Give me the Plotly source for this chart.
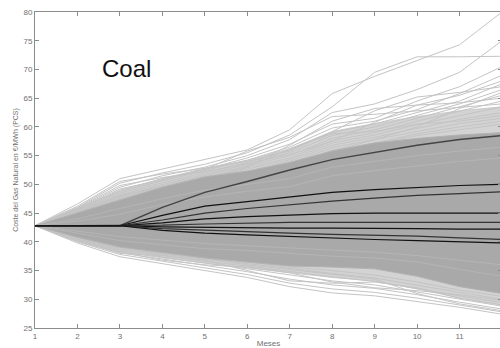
import plotly.graph_objects as go

months = list(range(1, 13))
x_ticks = list(range(1, 13))
y_ticks = list(range(25, 85, 5))

# dense simulation band envelope
band_upper = [42.8, 45.0, 47.3, 49.5, 51.3, 52.3, 53.8, 55.8, 57.2, 58.0, 58.6, 59.0]
band_lower = [42.8, 40.8, 39.1, 38.2, 37.2, 36.5, 35.8, 35.6, 35.3, 34.0, 32.2, 31.0]

# looser zone of many paths around the dense band
halo_upper = [42.8, 45.8, 48.8, 51.0, 52.8, 54.2, 56.2, 59.2, 60.6, 61.8, 62.8, 63.5]
halo_lower = [42.8, 40.2, 38.3, 37.2, 36.3, 35.5, 34.6, 33.8, 33.2, 31.8, 30.2, 29.0]

# individual outlying simulated paths (upper side)
upper_paths = [
    [42.8, 46.6, 51.0, 52.7, 54.4, 56.0, 59.5, 65.8, 68.8, 71.6, 74.3, 80.0],
    [42.8, 46.0, 50.2, 52.0, 53.5, 55.5, 58.6, 63.5, 69.5, 72.2, 72.2, 72.3],
    [42.8, 45.8, 49.5, 51.5, 53.0, 55.0, 57.8, 62.5, 64.0, 66.5, 69.5, 75.0],
    [42.8, 45.6, 49.0, 51.0, 52.6, 54.6, 57.0, 60.5, 61.5, 64.5, 67.0, 70.5],
    [42.8, 45.5, 48.8, 50.6, 52.4, 54.2, 56.5, 59.8, 61.0, 63.0, 65.8, 69.0],
    [42.8, 45.3, 48.5, 50.3, 52.0, 53.8, 56.0, 59.0, 60.5, 62.5, 64.5, 67.5],
    [42.8, 45.2, 48.2, 50.0, 51.8, 53.5, 55.5, 58.5, 60.0, 62.0, 64.0, 66.5],
    [42.8, 45.1, 48.0, 49.8, 51.5, 53.2, 55.0, 58.0, 59.5, 61.5, 63.5, 65.5],
    [42.8, 45.0, 47.8, 49.6, 51.2, 52.9, 54.6, 57.6, 59.0, 61.0, 62.8, 64.5],
    [42.8, 44.9, 47.6, 49.4, 51.0, 52.6, 54.3, 57.2, 58.6, 60.4, 62.0, 63.5],
    [42.8, 44.8, 47.4, 49.2, 50.8, 52.3, 54.0, 56.8, 58.2, 59.8, 61.3, 62.5],
    [42.8, 44.7, 47.2, 49.0, 50.5, 52.0, 53.7, 56.4, 57.8, 59.2, 60.6, 61.5],
    [42.8, 45.4, 48.0, 49.5, 51.0, 53.0, 56.2, 58.8, 59.2, 60.5, 61.0, 62.0],
    [42.8, 45.9, 49.8, 51.2, 52.2, 53.6, 55.2, 57.5, 60.8, 63.8, 64.2, 65.0],
    [42.8, 46.2, 50.5, 51.8, 52.8, 54.0, 55.8, 59.2, 62.8, 65.2, 66.0, 67.0],
    [42.8, 45.0, 47.5, 49.0, 50.6, 53.2, 56.8, 61.0, 63.2, 63.8, 65.5, 68.0],
    [42.8, 44.9, 47.3, 49.2, 51.4, 52.2, 53.5, 55.8, 57.8, 60.0, 63.2, 66.0],
    [42.8, 44.6, 47.0, 48.8, 50.2, 51.8, 53.2, 56.0, 57.2, 58.8, 60.0, 61.0],
    [42.8, 45.7, 49.2, 50.8, 52.6, 55.8, 58.2, 61.8, 62.2, 62.8, 63.4, 64.0],
    [42.8, 44.5, 46.8, 48.6, 50.0, 51.5, 53.0, 55.5, 57.0, 58.5, 59.5, 60.5],
]

# individual outlying simulated paths (lower side)
lower_paths = [
    [42.8, 39.8, 37.4, 36.2, 35.1, 33.8, 32.2, 31.1, 30.6, 29.6, 28.6, 27.4],
    [42.8, 40.0, 37.8, 36.6, 35.5, 34.3, 32.8, 31.8, 31.2, 30.2, 29.0, 27.8],
    [42.8, 40.2, 38.1, 37.0, 35.9, 34.8, 33.5, 32.5, 31.9, 30.8, 29.5, 28.3],
    [42.8, 40.3, 38.4, 37.3, 36.3, 35.3, 34.2, 33.2, 32.5, 31.3, 30.0, 28.8],
    [42.8, 40.5, 38.7, 37.6, 36.6, 35.8, 34.8, 33.9, 33.1, 31.8, 30.6, 29.4],
    [42.8, 40.6, 38.9, 37.9, 37.0, 36.2, 35.3, 34.5, 33.7, 32.4, 31.2, 30.0],
    [42.8, 40.2, 38.0, 37.6, 36.8, 35.0, 33.2, 32.8, 33.0, 32.0, 30.2, 29.0],
    [42.8, 40.7, 39.0, 38.0, 37.0, 36.0, 35.2, 34.4, 33.5, 31.0, 29.2, 28.0],
    [42.8, 40.4, 38.6, 37.8, 37.1, 36.4, 35.6, 35.0, 34.2, 33.0, 31.6, 30.5],
    [42.8, 40.1, 38.2, 36.8, 36.0, 35.6, 34.6, 33.0, 32.0, 31.5, 30.8, 29.8],
]

# lighter paths inside the dense band
inner_paths = [
    [42.8, 44.0, 45.8, 47.5, 49.0, 50.0, 51.0, 53.0, 54.0, 55.0, 55.8, 56.5],
    [42.8, 41.5, 40.2, 39.5, 38.8, 38.5, 38.0, 37.5, 37.2, 36.5, 35.2, 34.0],
    [42.8, 43.6, 44.8, 46.5, 47.8, 48.8, 49.6, 51.5, 52.4, 53.2, 54.0, 54.6],
    [42.8, 41.9, 40.9, 40.3, 39.7, 39.3, 38.9, 38.6, 38.2, 37.6, 36.8, 36.0],
]

# percentile / statistic lines
stat_upper = [42.8, 42.8, 42.8, 46.0, 48.6, 50.5, 52.5, 54.3, 55.6, 56.8, 57.8, 58.5]
stat_lines = [
    [42.8, 42.8, 42.8, 44.6, 46.2, 47.0, 47.8, 48.6, 49.1, 49.5, 49.8, 50.0],
    [42.8, 42.8, 42.8, 43.8, 45.0, 45.8, 46.5, 47.1, 47.6, 48.1, 48.4, 48.7],
    [42.8, 42.8, 42.8, 43.3, 44.0, 44.4, 44.7, 44.9, 45.0, 45.0, 45.0, 45.0],
    [42.8, 42.8, 42.8, 42.9, 43.1, 43.3, 43.4, 43.4, 43.4, 43.4, 43.4, 43.4],
    [42.8, 42.8, 42.8, 42.6, 42.5, 42.5, 42.4, 42.4, 42.4, 42.3, 42.2, 42.2],
    [42.8, 42.8, 42.8, 42.3, 42.0, 41.7, 41.5, 41.3, 41.2, 41.0, 40.7, 40.4],
    [42.8, 42.8, 42.8, 42.0, 41.5, 41.2, 40.9, 40.6, 40.4, 40.2, 40.0, 39.8],
]

fig = go.Figure()

# halo zone (lighter)
fig.add_trace(go.Scatter(x=months, y=halo_upper, mode="lines",
                         line=dict(color="#cccccc", width=1), hoverinfo="skip"))
fig.add_trace(go.Scatter(x=months, y=halo_lower, mode="lines", fill="tonexty",
                         fillcolor="#d3d3d3",
                         line=dict(color="#cccccc", width=1), hoverinfo="skip"))

for p in upper_paths + lower_paths:
    fig.add_trace(go.Scatter(x=months, y=p, mode="lines",
                             line=dict(color="#c4c4c4", width=1), hoverinfo="skip"))

fig.add_trace(go.Scatter(x=months, y=band_upper, mode="lines",
                         line=dict(color="#b2b2b2", width=1), hoverinfo="skip"))
fig.add_trace(go.Scatter(x=months, y=band_lower, mode="lines", fill="tonexty",
                         fillcolor="#a9a9a9",
                         line=dict(color="#b2b2b2", width=1), hoverinfo="skip"))

for p in inner_paths:
    fig.add_trace(go.Scatter(x=months, y=p, mode="lines",
                             line=dict(color="#b8b8b8", width=0.8), hoverinfo="skip"))

fig.add_trace(go.Scatter(x=months, y=stat_upper, mode="lines",
                         line=dict(color="#444444", width=1.4), hoverinfo="skip"))
for i, p in enumerate(stat_lines):
    col = "#111111" if i % 2 == 0 else "#333333"
    fig.add_trace(go.Scatter(x=months, y=p, mode="lines",
                             line=dict(color=col, width=1.2), hoverinfo="skip"))

fig.add_annotation(x=3.15, y=70.1, xref="x", yref="y", text="Coal", showarrow=False,
                   font=dict(family="Liberation Sans", size=24, color="#111111"),
                   xanchor="center", yanchor="middle")

axis_common = dict(showline=True, linecolor="#8c8c8c", linewidth=1,
                   ticks="inside", ticklen=4, tickcolor="#8c8c8c",
                   showgrid=False, zeroline=False, mirror="ticks",
                   tickfont=dict(family="Liberation Sans", size=8, color="#707070"))

fig.update_layout(
    width=503, height=348,
    margin=dict(l=35, r=1, t=12, b=20),
    paper_bgcolor="white", plot_bgcolor="white",
    showlegend=False,
    xaxis=dict(range=[1, 12], tickvals=x_ticks,
               title=dict(text="Meses", standoff=2,
                          font=dict(family="Liberation Sans", size=8, color="#707070")),
               **axis_common),
    yaxis=dict(range=[25, 80], tickvals=y_ticks,
               title=dict(text="Coste del Gas Natural en €/MWh (PCS)", standoff=4,
                          font=dict(family="Liberation Sans", size=7, color="#707070")),
               **axis_common),
)

fig.write_html("out.html", config={"displayModeBar": False},
               post_script="document.body.style.margin='0';document.body.style.overflow='hidden';"
                           "document.documentElement.style.overflow='hidden';")
